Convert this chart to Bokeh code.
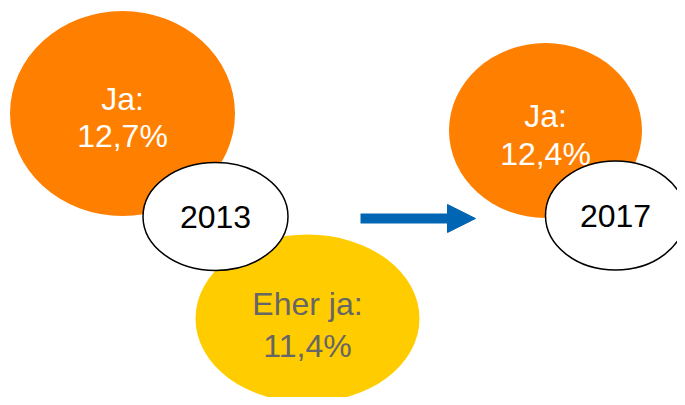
from bokeh.plotting import figure
from bokeh.models import Range1d, Arrow, NormalHead
from bokeh.embed import file_html
from bokeh.resources import INLINE
from bokeh.core.properties import value

# ---- data ----
years = ["2013", "2017"]
answers = ["Ja:", "Eher ja:", "Ja:"]
shares = [12.7, 11.4, 12.4]

# ---- layout (pixel coordinates of the picture) ----
bubble_x = [122, 307, 545]
bubble_y = [113, 318, 130]
bubble_w = [225, 224, 193]
bubble_h = [205, 168, 175]
bubble_colors = ["#FF7F00", "#FFCC00", "#FF7F00"]
text_colors = ["#FFFFFF", "#666666", "#FFFFFF"]
label_y1 = [98, 303, 115]
label_y2 = [135, 345, 153]

year_x = [215, 615]
year_y = [216, 215]
year_w = [145, 140]
year_h = [108, 109]

W, H = 677, 397
p = figure(width=W, height=H, output_backend="svg", toolbar_location=None,
           x_range=Range1d(0, W), y_range=Range1d(H, 0),
           min_border=0, outline_line_color=None)
p.axis.visible = False
p.grid.visible = False
p.background_fill_color = "white"

FONT = value("Liberation Sans")

for i in range(3):
    p.ellipse(x=[bubble_x[i]], y=[bubble_y[i]], width=[bubble_w[i]], height=[bubble_h[i]],
              fill_color=bubble_colors[i], line_color=None)
    lbl = f"{shares[i]:.1f}".replace(".", ",") + "%"
    p.text(x=[bubble_x[i], bubble_x[i]], y=[label_y1[i], label_y2[i]], text=[answers[i], lbl],
           text_font=FONT, text_font_size="32px", text_color=text_colors[i],
           text_align="center", text_baseline="middle")
    if i == 1:
        # 2013 year bubble on top of both 2013 bubbles
        p.ellipse(x=[year_x[0]], y=[year_y[0]], width=[year_w[0]], height=[year_h[0]],
                  fill_color="white", line_color="black", line_width=1.5)
        p.text(x=[year_x[0]], y=[year_y[0]], text=[years[0]], text_font=FONT,
               text_font_size="32px", text_color="black", text_align="center",
               text_baseline="middle")

p.ellipse(x=[year_x[1]], y=[year_y[1]], width=[year_w[1]], height=[year_h[1]],
          fill_color="white", line_color="black", line_width=1.5)
p.text(x=[year_x[1]], y=[year_y[1]], text=[years[1]], text_font=FONT,
       text_font_size="32px", text_color="black", text_align="center",
       text_baseline="middle")

p.add_layout(Arrow(x_start=360, y_start=218, x_end=475, y_end=218,
                   line_color="#0066B3", line_width=10,
                   end=NormalHead(size=28, fill_color="#0066B3", line_color="#0066B3", line_width=1)))

open("out.html", "w").write(file_html(p, INLINE))
